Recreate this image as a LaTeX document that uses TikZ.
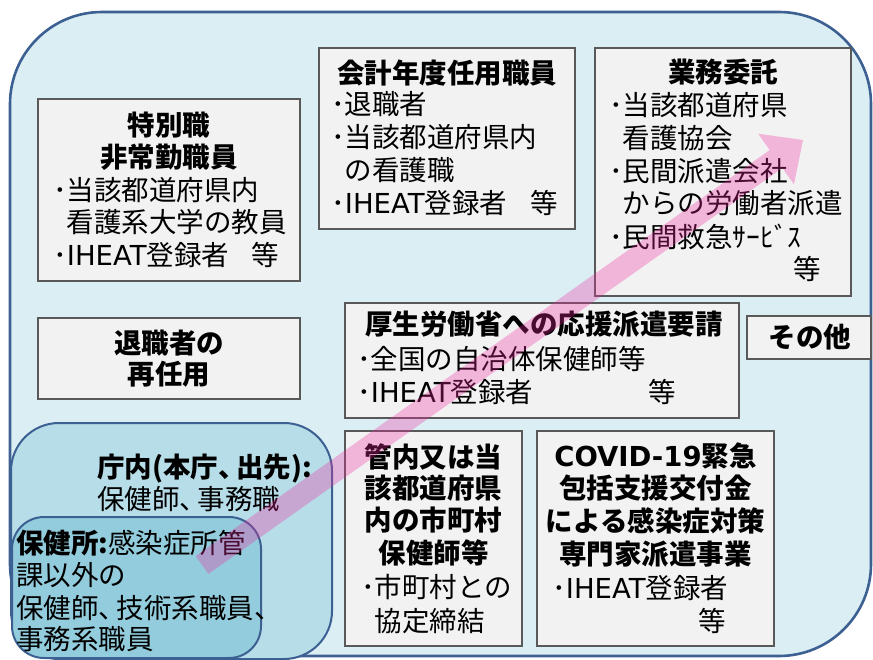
\documentclass[tikz,border=0pt]{standalone}
\usepackage{fontspec}
\newfontfamily\jp{Noto Sans CJK JP}
\newfontfamily\lat{DejaVu Sans}
\usetikzlibrary{calc}
\definecolor{outerfill}{HTML}{DBEEF4}
\definecolor{outerdraw}{HTML}{3C6092}
\definecolor{chofill}{HTML}{B7DDE8}
\definecolor{hokfill}{HTML}{93CDDD}
\definecolor{boxfill}{HTML}{F2F2F2}
\definecolor{boxdraw}{HTML}{595959}
\definecolor{arrowpink}{RGB}{240,40,160}
\newcommand\tn{、\kern-0.35em}
\newcommand\ih{{\lat IHEAT}}
\tikzset{
  box/.style={draw=boxdraw, fill=boxfill, line width=1.2pt, inner sep=0pt},
  region/.style={draw=outerdraw, inner sep=0pt},
  tl/.style={font=\jp\fontsize{27.5}{32}\selectfont, inner sep=0pt, anchor=base west, text=black},
  tc/.style={tl, anchor=base},
  bc/.style={tl, font=\jp\bfseries\fontsize{27.5}{32}\selectfont, anchor=base},
  bl/.style={tl, font=\jp\bfseries\fontsize{27.5}{32}\selectfont},
}
\begin{document}
\begin{tikzpicture}[x=1pt,y=-1pt]
\useasboundingbox (0,0) rectangle (873,659);
% outer region
\node[region, fill=outerfill, line width=2.6pt, rounded corners=92pt,
      minimum width=861pt, minimum height=644pt] (outer) at (440.5,334) {};
% 庁内
\node[region, fill=chofill, line width=2pt, rounded corners=48pt,
      minimum width=321pt, minimum height=236pt] (cho) at (171.5,541) {};
% 保健所
\node[region, fill=hokfill, line width=2pt, rounded corners=32pt,
      minimum width=249pt, minimum height=141pt] (hok) at (136.5,587.5) {};

% gray boxes
\node[box, minimum width=262pt, minimum height=182pt] (b1) at (169,190) {};
\node[box, minimum width=256pt, minimum height=181pt] (b2) at (447,138.5) {};
\node[box, minimum width=256pt, minimum height=248pt] (b3) at (723,172) {};
\node[box, minimum width=262pt, minimum height=81pt] (b4) at (169,358.5) {};
\node[box, minimum width=394pt, minimum height=115pt] (b5) at (542,360.5) {};
\node[box, minimum width=124pt, minimum height=43pt] (b6) at (809,337.5) {};
\node[box, minimum width=177pt, minimum height=215pt] (b7) at (433.5,538.5) {};
\node[box, minimum width=237pt, minimum height=215pt] (b8) at (655.5,538.5) {};

% box 1
\node[bc] (b1t1) at (169,135) {特別職};
\node[bc] (b1t2) at (169,167) {非常勤職員};
\node[tl] (b1l1) at (53,200) {･当該都道府県内};
\node[tl] (b1l2) at (66.5,232) {看護系大学の教員};
\node[tl] (b1l3) at (53,265) {･\ih 登録者};
\node[tl] (b1l4) at (251,265) {等};

% box 2
\node[bc] (b2t1) at (447,83) {会計年度任用職員};
\node[tl] (b2l1) at (331,114) {･退職者};
\node[tl] (b2l2) at (331,147) {･当該都道府県内};
\node[tl] (b2l3) at (344.5,180) {の看護職};
\node[tl] (b2l4) at (331,213) {･\ih 登録者};
\node[tl] (b2l5) at (530,213) {等};

% box 3
\node[bc] (b3t1) at (723,82) {業務委託};
\node[tl] (b3l1) at (609,115) {･当該都道府県};
\node[tl] (b3l2) at (622.5,148) {看護協会};
\node[tl] (b3l3) at (609,181) {･民間派遣会社};
\node[tl] (b3l4) at (622.5,213) {からの労働者派遣};
\node[tl] (b3l5) at (609,247) {･民間救急ｻｰﾋﾞｽ};
\node[tl] (b3l6) at (793,279) {等};

% box 4
\node[bc] (b4t1) at (169,353) {退職者の};
\node[bc] (b4t2) at (169,384) {再任用};

% box 5
\node[bc] (b5t1) at (544,334) {厚生労働省への応援派遣要請};
\node[tl] (b5l1) at (357,369) {･全国の自治体保健師等};
\node[tl] (b5l2) at (357,402) {･\ih 登録者};
\node[tl] (b5l3) at (648,402) {等};

% box 6
\node[bc] (b6t1) at (810,347) {その他};

% box 7
\node[bc] (b7t1) at (433.5,467) {管内又は当};
\node[bc] (b7t2) at (433.5,498) {該都道府県};
\node[bc] (b7t3) at (433.5,530) {内の市町村};
\node[bc] (b7t4) at (433.5,563) {保健師等};
\node[tl] (b7l1) at (361,597) {･市町村との};
\node[tl] (b7l2) at (374.5,631) {協定締結};

% box 8
\node[bc] (b8t1) at (655.5,466) {{\lat\bfseries COVID-19}緊急};
\node[bc] (b8t2) at (655.5,498) {包括支援交付金};
\node[bc] (b8t3) at (655.5,531) {による感染症対策};
\node[bc] (b8t4) at (655.5,564) {専門家派遣事業};
\node[tl] (b8l1) at (552,598) {･\ih 登録者};
\node[tl] (b8l2) at (698,631) {等};

% 庁内 text
\node[bl] (chot1) at (97,477) {庁内(本庁\tn 出先):};
\node[tl] (chot2) at (97,509) {保健師\tn 事務職};

% 保健所 text
\node[tl] (hokt1) at (16,553) {{\bfseries 保健所:}感染症所管};
\node[tl] (hokt2) at (16,585) {課以外の};
\node[tl] (hokt3) at (16,618) {保健師\tn 技術系職員、};
\node[tl] (hokt4) at (16,649) {事務系職員};

% big translucent arrow
\coordinate (S) at (202,565);
\coordinate (T) at (803,140);
\coordinate (B) at ($(T)!33pt!(S)$);
\fill[arrowpink, opacity=0.3]
  ($(S)!11pt!90:(T)$) -- ($(B)!11pt!-90:(S)$) -- ($(B)!31pt!-90:(S)$) -- (T)
  -- ($(B)!31pt!90:(S)$) -- ($(B)!11pt!90:(S)$) -- ($(S)!11pt!-90:(T)$) -- cycle;
\end{tikzpicture}
\end{document}
